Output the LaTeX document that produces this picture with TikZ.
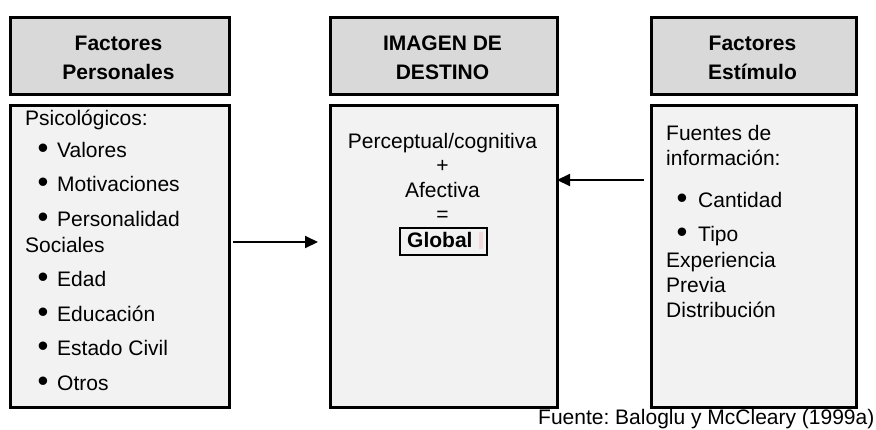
\documentclass[tikz,border=0pt]{standalone}
\usepackage{fontspec}
\setmainfont{Liberation Sans}
\usetikzlibrary{arrows.meta}
\definecolor{headgray}{HTML}{D9D9D9}
\definecolor{bodygray}{HTML}{F2F2F2}
\definecolor{cursorpink}{HTML}{F3DADA}
\frenchspacing
\begin{document}
\begin{tikzpicture}[x=1pt,y=-1pt,
  box/.style={draw=black,line width=2.6pt,inner sep=0pt,anchor=north west},
  headbox/.style={box,fill=headgray},
  bodybox/.style={box,fill=bodygray},
  txt/.style={anchor=base west,inner sep=0pt,font=\fontsize{21}{24}\selectfont},
  ctxt/.style={anchor=base,inner sep=0pt,font=\fontsize{21}{24}\selectfont},
  btxt/.style={anchor=base,inner sep=0pt,font=\fontsize{21}{24}\selectfont\bfseries},
  bul/.style={anchor=center,inner sep=0pt,font=\fontsize{31}{31}\selectfont},
  arr/.style={line width=2pt,-{Triangle[length=13pt,width=12pt]}}
]
\useasboundingbox (0,0) rectangle (876,429);

% header boxes
\node[headbox,minimum width=219pt,minimum height=77pt] (lh) at (9,16) {};
\node[headbox,minimum width=227pt,minimum height=77pt] (mh) at (329,16) {};
\node[headbox,minimum width=205pt,minimum height=77pt] (rh) at (650,16) {};
% body boxes
\node[bodybox,minimum width=219pt,minimum height=302pt] (lb) at (9,104) {};
\node[bodybox,minimum width=227pt,minimum height=302pt] (mb) at (329,104) {};
\node[bodybox,minimum width=205pt,minimum height=302pt] (rb) at (650,104) {};

% header texts
\node[btxt] (lh1) at (118.5,50) {Factores};
\node[btxt] (lh2) at (118.5,79) {Personales};
\node[btxt] (mh1) at (442.5,50) {IMAGEN DE};
\node[btxt] (mh2) at (442.5,79) {DESTINO};
\node[btxt] (rh1) at (752.5,50) {Factores};
\node[btxt] (rh2) at (752.5,79) {Estímulo};

% left body
\node[txt] (l0) at (25,125) {Psicológicos:};
\node[bul] (lb1) at (43,151) {•};
\node[txt] (l1) at (57,157) {Valores};
\node[bul] (lb2) at (43,185) {•};
\node[txt] (l2) at (57,191) {Motivaciones};
\node[bul] (lb3) at (43,220) {•};
\node[txt] (l3) at (57,226) {Personalidad};
\node[txt] (l4) at (25,252) {Sociales};
\node[bul] (lb5) at (43,280) {•};
\node[txt] (l5) at (57,286) {Edad};
\node[bul] (lb6) at (43,315) {•};
\node[txt] (l6) at (57,321) {Educación};
\node[bul] (lb7) at (43,349) {•};
\node[txt] (l7) at (57,355) {Estado Civil};
\node[bul] (lb8) at (43,384) {•};
\node[txt] (l8) at (57,390) {Otros};

% middle body
\node[ctxt] (m1) at (442.5,148) {Perceptual/cognitiva};
\node[ctxt] (m2) at (442.5,172) {+};
\node[ctxt] (m3) at (442.5,197) {Afectiva};
\node[ctxt] (m4) at (442.5,221) {=};
\node[draw=black,line width=2pt,fill=bodygray,anchor=north west,minimum width=87pt,minimum height=27pt,inner sep=0pt] (gb) at (399,227) {};
\node[fill=cursorpink,inner sep=0pt,minimum width=3.5pt,minimum height=17pt,anchor=north west] (cur) at (479,232) {};
\node[anchor=base west,inner sep=0pt,font=\fontsize{21}{24}\selectfont\bfseries] (glob) at (407,247) {Global};

% right body
\node[txt] (r1) at (666,140) {Fuentes de};
\node[txt] (r2) at (666,165) {información:};
\node[bul] (rb3) at (682,201) {•};
\node[txt] (r3) at (698,207) {Cantidad};
\node[bul] (rb4) at (682,235.5) {•};
\node[txt] (r4) at (698,241) {Tipo};
\node[txt] (r5) at (666,267) {Experiencia};
\node[txt] (r6) at (666,292) {Previa};
\node[txt] (r7) at (666,317) {Distribución};

% arrows
\coordinate (a1s) at (233,242);
\coordinate (a1e) at (318,242);
\coordinate (a2s) at (644,180);
\coordinate (a2e) at (557,180);
\draw[arr] (a1s) -- (a1e);
\draw[arr] (a2s) -- (a2e);

% source
\node[anchor=base west,inner sep=0pt,font=\fontsize{21}{24}\selectfont] (src) at (538,424) {Fuente: Baloglu y McCleary (1999a)};
\end{tikzpicture}
\end{document}
